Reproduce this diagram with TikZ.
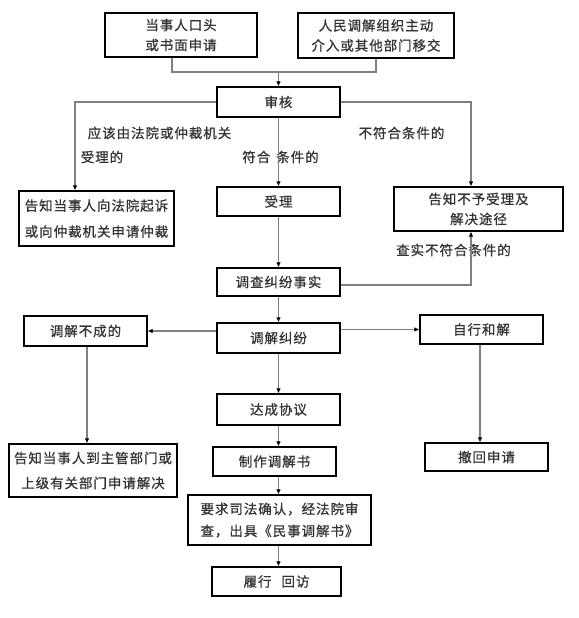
\documentclass[tikz,border=0pt]{standalone}
\usepackage{fontspec}
\setmainfont[LetterSpace=7,FakeBold=0.7]{Noto Sans CJK SC}
\usetikzlibrary{arrows.meta}
\begin{document}
\begin{tikzpicture}[x=1pt,y=-1pt,
  box/.style={draw=black, line width=1.1pt, inner sep=0pt, font=\fontsize{13.5}{20}\selectfont, text=black!80, align=center},
  conn/.style={draw=black!50, line width=1.2pt},
  arr/.style={conn, -{Latex[length=5pt,width=4.5pt,black]}},
  lbl/.style={font=\fontsize{13.5}{20}\selectfont, text=black!80, inner sep=0pt}]
\useasboundingbox[fill=white] (0,0) rectangle (578,618);

\node[box, minimum width=152pt, minimum height=44pt] (app) at (181,35) {当事人口头\\或书面申请};
\node[box, minimum width=156pt, minimum height=45pt] (med) at (376,35.5) {人民调解组织主动\\介入或其他部门移交};
\node[box, minimum width=123pt, minimum height=30pt] (shen) at (278.5,102) {审核};
\node[box, minimum width=155pt, minimum height=55pt] (court) at (96.5,218.5) {告知当事人向法院起诉\\[6pt]或向仲裁机关申请仲裁};
\node[box, minimum width=123pt, minimum height=29pt] (accept) at (278.5,201.5) {受理};
\node[box, minimum width=169pt, minimum height=44pt] (reject) at (478.5,209) {告知不予受理及\\解决途径};
\node[box, minimum width=123pt, minimum height=28pt] (invest) at (278.5,282) {调查纠纷事实};
\node[box, minimum width=123pt, minimum height=30pt] (mediate) at (278.5,338) {调解纠纷};
\node[box, minimum width=123pt, minimum height=30pt] (fail) at (85.5,331) {调解不成的};
\node[box, minimum width=123pt, minimum height=29pt] (self) at (481.5,329.5) {自行和解};
\node[box, minimum width=168pt, minimum height=53pt] (dept) at (93,470.5) {告知当事人到主管部门或\\[5pt]上级有关部门申请解决};
\node[box, minimum width=123pt, minimum height=28pt] (withdraw) at (486.5,457) {撤回申请};
\node[box, minimum width=123pt, minimum height=31pt] (agree) at (278.5,409.5) {达成协议};
\node[box, minimum width=123pt, minimum height=29pt] (make) at (274.5,461.5) {制作调解书};
\node[box, minimum width=183pt, minimum height=50pt, align=left] (confirm) at (279.5,520) {要求司法确认，经法院审\\[2pt]查，出具《民事调解书》};
\node[box, minimum width=129pt, minimum height=29pt] (perform) at (276.5,581.5) {履行\hspace{10pt}回访};

\node[lbl] (l1) at (159.5,133) {应该由法院或仲裁机关};
\node[lbl] (l2) at (102,157) {受理的};
\node[lbl] (l3) at (280.5,157) {符合\hspace{6pt}条件的};
\node[lbl] (l4) at (401.5,133) {不符合条件的};
\node[lbl] (l5) at (453.5,250) {查实不符合条件的};

\coordinate (m) at (278.5,72);
\coordinate (cx) at (278.5,0);
\draw[conn] ([xshift=-9pt]app.south) |- (m) -| (med.south);
\draw[arr] (m) -- (shen.north);
\draw[arr] (shen.west) -| ([xshift=-21.5pt]court.north);
\draw[arr] (shen.east) -| ([xshift=-7.5pt]reject.north);
\draw[arr] (shen) -- (accept);
\draw[arr] (accept) -- (invest);
\draw[arr] (invest) -- (mediate);
\draw[arr] ([yshift=-3pt]invest.east) -| ([xshift=-7.5pt]reject.south);
\draw[arr] (mediate.west |- fail.east) -- (fail.east);
\draw[arr] (mediate.east |- self.west) -- (self.west);
\draw[arr] ([xshift=1.5pt]fail.south) -- ([xshift=1.5pt]fail.south |- dept.north);
\draw[arr] ([xshift=-1.5pt]self.south) -- ([xshift=-1.5pt]self.south |- withdraw.north);
\draw[arr] (mediate) -- (agree);
\draw[arr] (agree.south) -- (agree.south |- make.north);
\draw[arr] (make.south -| cx) -- (confirm.north -| cx);
\draw[arr] (confirm.south -| cx) -- (perform.north -| cx);
\end{tikzpicture}
\end{document}
